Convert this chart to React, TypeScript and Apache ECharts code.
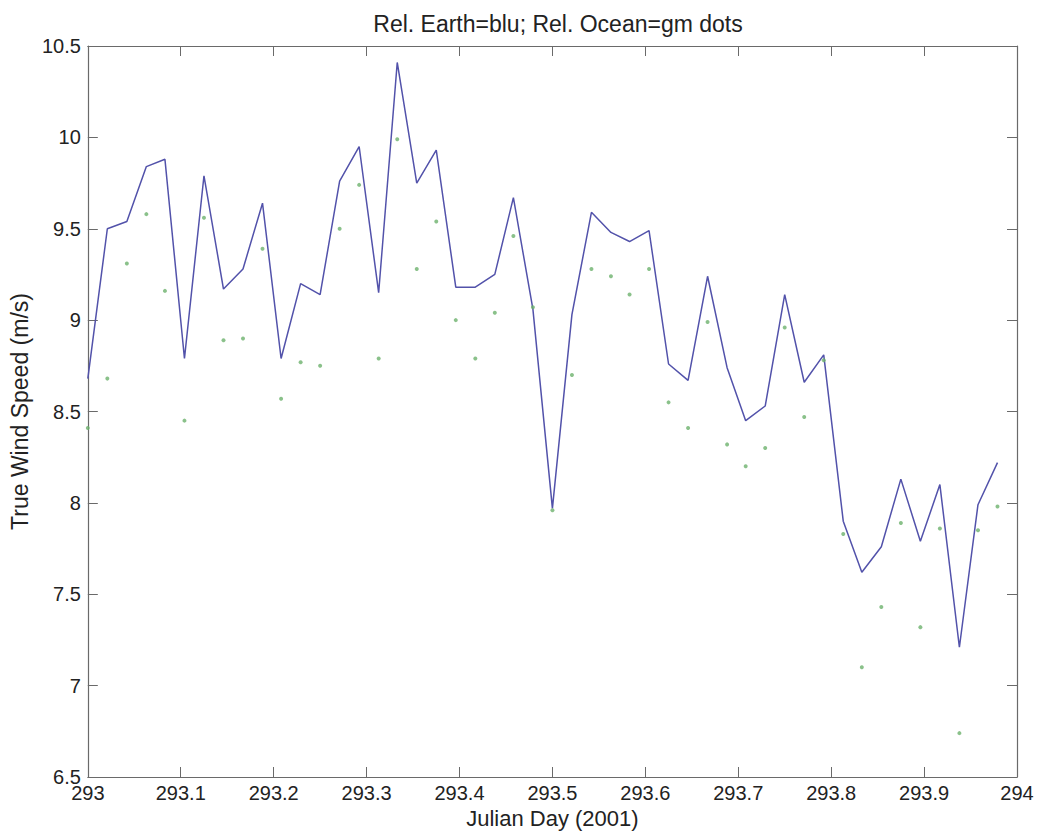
import React, { useEffect, useRef } from "react";
import * as echarts from "echarts";

const titleText = "Rel. Earth=blu; Rel. Ocean=gm dots";
const xAxisName = "Julian Day (2001)";
const yAxisName = "True Wind Speed (m/s)";

const julianDays = [
  293.0, 293.021, 293.042, 293.063, 293.083, 293.104, 293.125, 293.146,
  293.167, 293.188, 293.208, 293.229, 293.25, 293.271, 293.292, 293.313,
  293.333, 293.354, 293.375, 293.396, 293.417, 293.438, 293.458, 293.479,
  293.5, 293.521, 293.542, 293.563, 293.583, 293.604, 293.625, 293.646,
  293.667, 293.688, 293.708, 293.729, 293.75, 293.771, 293.792, 293.813,
  293.833, 293.854, 293.875, 293.896, 293.917, 293.938, 293.958, 293.979,
];

const relEarth = [
  8.68, 9.5, 9.54, 9.84, 9.88, 8.79, 9.79, 9.17,
  9.28, 9.64, 8.79, 9.2, 9.14, 9.76, 9.95, 9.15,
  10.41, 9.75, 9.93, 9.18, 9.18, 9.25, 9.67, 9.06,
  7.97, 9.03, 9.59, 9.48, 9.43, 9.49, 8.76, 8.67,
  9.24, 8.74, 8.45, 8.53, 9.14, 8.66, 8.81, 7.9,
  7.62, 7.76, 8.13, 7.79, 8.1, 7.21, 7.99, 8.22,
];

const relOcean = [
  8.41, 8.68, 9.31, 9.58, 9.16, 8.45, 9.56, 8.89,
  8.9, 9.39, 8.57, 8.77, 8.75, 9.5, 9.74, 8.79,
  9.99, 9.28, 9.54, 9.0, 8.79, 9.04, 9.46, 9.07,
  7.96, 8.7, 9.28, 9.24, 9.14, 9.28, 8.55, 8.41,
  8.99, 8.32, 8.2, 8.3, 8.96, 8.47, 8.78, 7.83,
  7.1, 7.43, 7.89, 7.32, 7.86, 6.74, 7.85, 7.98,
];

export default function App() {
  const ref = useRef<HTMLDivElement>(null);

  useEffect(() => {
    if (!ref.current) return;
    const chart = echarts.init(ref.current, null, { renderer: "svg" });
    const font = "'Liberation Sans', Arial, sans-serif";
    const frame = { lineStyle: { color: "#6a6a6a", width: 1.2 } };
    const tick = { show: true, inside: true, length: 10, lineStyle: { color: "#6a6a6a", width: 1 } };

    chart.setOption({
      animation: false,
      backgroundColor: "#ffffff",
      title: {
        text: titleText,
        left: 553,
        textAlign: "center",
        top: 7,
        textStyle: { fontFamily: font, fontSize: 23, fontWeight: "normal", color: "#222" },
      },
      grid: { left: 86, right: 21, top: 46, bottom: 63, containLabel: false },
      xAxis: [
        {
          type: "value",
          min: 293,
          max: 294,
          interval: 0.1,
          position: "bottom",
          axisLine: { show: true, ...frame },
          axisTick: tick,
          splitLine: { show: false },
          axisLabel: {
            fontFamily: font,
            fontSize: 20,
            color: "#222",
            margin: 6,
            formatter: (v: number) => String(+v.toFixed(1)),
          },
          name: xAxisName,
          nameLocation: "middle",
          nameGap: 29,
          nameTextStyle: { fontFamily: font, fontSize: 22, color: "#222", verticalAlign: "top" },
        },
        {
          type: "value",
          min: 293,
          max: 294,
          interval: 0.1,
          position: "top",
          axisLine: { show: true, ...frame },
          axisTick: tick,
          splitLine: { show: false },
          axisLabel: { show: false },
        },
      ],
      yAxis: [
        {
          type: "value",
          min: 6.5,
          max: 10.5,
          interval: 0.5,
          position: "left",
          axisLine: { show: true, ...frame },
          axisTick: tick,
          splitLine: { show: false },
          axisLabel: { fontFamily: font, fontSize: 20, color: "#222", margin: 7 },
          name: yAxisName,
          nameLocation: "middle",
          nameGap: 52,
          nameRotate: 90,
          nameTextStyle: { fontFamily: font, fontSize: 23, color: "#222" },
        },
        {
          type: "value",
          min: 6.5,
          max: 10.5,
          interval: 0.5,
          position: "right",
          axisLine: { show: true, ...frame },
          axisTick: tick,
          splitLine: { show: false },
          axisLabel: { show: false },
        },
      ],
      series: [
        {
          name: "Rel. Earth",
          type: "line",
          data: julianDays.map((d, i) => [d, relEarth[i]]),
          showSymbol: false,
          lineStyle: { color: "#5252aa", width: 1.5 },
          z: 2,
        },
        {
          name: "Rel. Ocean",
          type: "scatter",
          data: julianDays.map((d, i) => [d, relOcean[i]]),
          symbol: "circle",
          symbolSize: 4,
          itemStyle: { color: "#6db26d" },
          z: 3,
        },
      ],
    });
    return () => chart.dispose();
  }, []);

  return (
    <div
      ref={ref}
      style={{ position: "fixed", left: 0, top: 0, width: 1038, height: 840, background: "#fff" }}
    />
  );
}
